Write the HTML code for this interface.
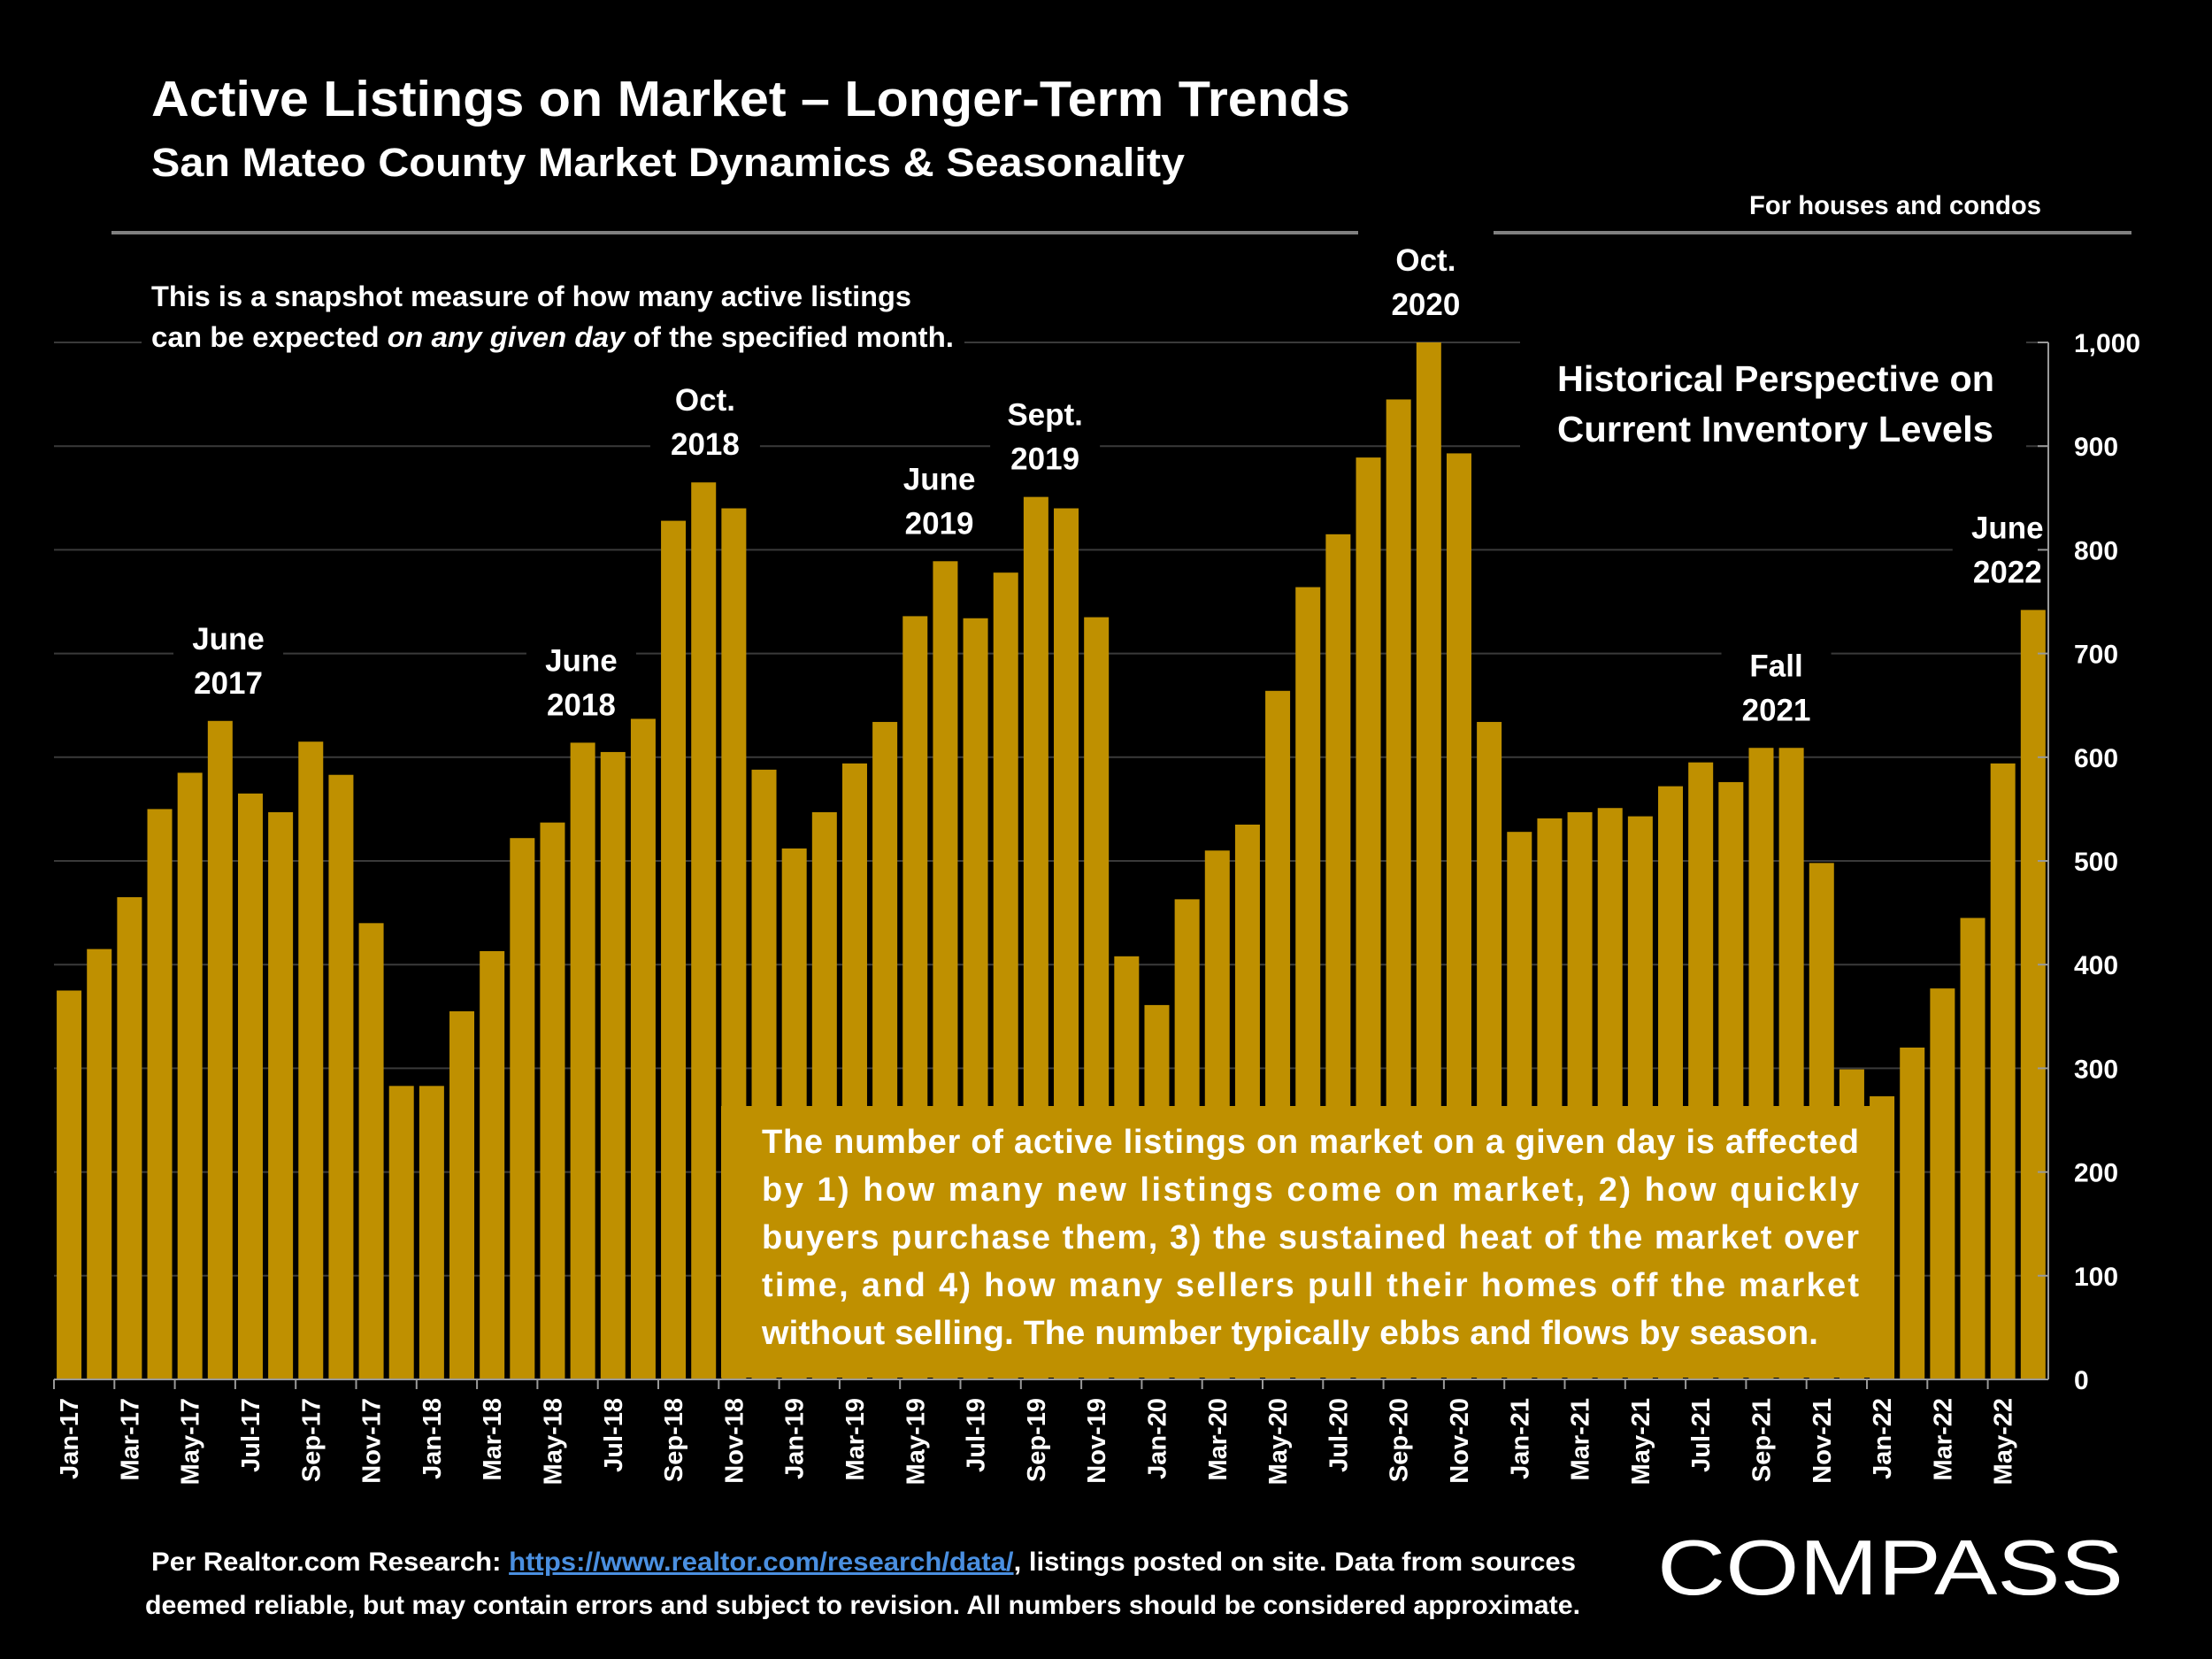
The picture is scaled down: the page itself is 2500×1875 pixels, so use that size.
<!DOCTYPE html>
<html><head><meta charset="utf-8"><style>
html,body{margin:0;padding:0;background:#000;}
svg{display:block;}
text{font-family:"Liberation Sans",sans-serif;fill:#fff;font-weight:bold;}
</style></head><body>
<svg id="chart" width="2500" height="1875" viewBox="0 0 2500 1875" xmlns="http://www.w3.org/2000/svg">
<rect width="2500" height="1875" fill="#000"/>
<g id="grid"></g>
<g id="annbg"></g>
<g id="bars"></g>
<g id="axes"></g>

<text x="171" y="131" font-size="57" textLength="1355" lengthAdjust="spacingAndGlyphs">Active Listings on Market – Longer-Term Trends</text>
<text x="171" y="199" font-size="45" textLength="1168" lengthAdjust="spacingAndGlyphs">San Mateo County Market Dynamics &amp; Seasonality</text>
<rect x="126" y="261" width="1409" height="4" fill="#808080"/>
<rect x="1688" y="261" width="721" height="4" fill="#808080"/>
<text x="2307" y="242" font-size="30" text-anchor="end" textLength="330" lengthAdjust="spacingAndGlyphs">For houses and condos</text>

<rect x="160" y="310" width="930" height="100" fill="#000"/>
<text x="171" y="346" font-size="32" textLength="859" lengthAdjust="spacingAndGlyphs">This is a snapshot measure of how many active listings</text>
<text x="171" y="392" font-size="32" textLength="907" lengthAdjust="spacingAndGlyphs">can be expected <tspan font-style="italic">on any given day</tspan> of the specified month.</text>

<rect x="1718" y="380" width="572" height="170" fill="#000"/>
<text x="1760" y="442" font-size="41" textLength="494" lengthAdjust="spacingAndGlyphs">Historical Perspective on</text>
<text x="1760" y="499" font-size="41" textLength="493" lengthAdjust="spacingAndGlyphs">Current Inventory Levels</text>

<g id="annotations"></g>

<rect x="815" y="1250" width="1315" height="307" fill="#BF9000"/>
<g font-size="38">
<text x="861" y="1303" textLength="1240" lengthAdjust="spacing" font-size="38">The number of active listings on market on a given day is affected</text>
<text x="861" y="1357" textLength="1240" lengthAdjust="spacing" font-size="38">by 1) how many new listings come on market, 2) how quickly</text>
<text x="861" y="1411" textLength="1240" lengthAdjust="spacing" font-size="38">buyers purchase them, 3) the sustained heat of the market over</text>
<text x="861" y="1465" textLength="1240" lengthAdjust="spacing" font-size="38">time, and 4) how many sellers pull their homes off the market</text>
<text x="861" y="1519" textLength="1194" lengthAdjust="spacingAndGlyphs" font-size="38">without selling. The number typically ebbs and flows by season.</text>
</g>

<text x="171" y="1775" font-size="30" textLength="1610" lengthAdjust="spacingAndGlyphs">Per Realtor.com Research:  <tspan fill="#4a8fe0" text-decoration="underline" style="fill:#4a8fe0">https://www.realtor.com/research/data/</tspan>, listings posted on site. Data from sources</text>
<text x="164" y="1824" font-size="30" textLength="1622" lengthAdjust="spacingAndGlyphs">deemed reliable, but may contain errors and subject to revision. All numbers should be considered approximate.</text>
<text x="1873" y="1802" font-size="88" font-weight="normal" style="font-weight:normal" textLength="527" lengthAdjust="spacingAndGlyphs">COMPASS</text>
</svg>
<script>
const months = ["Jan","Feb","Mar","Apr","May","Jun","Jul","Aug","Sep","Oct","Nov","Dec"];
const values2017 = [375,415,465,550,585,635,565,547,615,583,440,283];
const values2018 = [283,355,413,522,537,614,605,637,828,865,840,588];
const values2019 = [512,547,594,634,736,789,734,778,851,840,735,408];
const values2020 = [361,463,510,535,664,764,815,889,945,1000,893,634];
const values2021 = [528,541,547,551,543,572,595,576,609,609,498,299];
const values2022 = [273,320,377,445,594,742];
const yTicks = [0,100,200,300,400,500,600,700,800,900,1000];
const yTickLabels = ["0","100","200","300","400","500","600","700","800","900","1,000"];
const annotationLabels = [["June","2017"],["June","2018"],["Oct.","2018"],["June","2019"],["Sept.","2019"],["Oct.","2020"],["Fall","2021"],["June","2022"]];
const annotationBar = [5,17,21,29,32,45,56,65];
const annotationIndex = [5.27,16.95,21.05,28.8,32.3,44.9,56.5,64.15];

const NS="http://www.w3.org/2000/svg";
const values=[].concat(values2017,values2018,values2019,values2020,values2021,values2022);
const cats=[];
const years=["17","18","19","20","21","22"];
values.forEach((v,i)=>cats.push(months[i%12]+"-"+years[Math.floor(i/12)]));
const X0=61, PITCH=34.15, BW=28, Y0=1559, YSCALE=1.172;
const xc=i=>X0+PITCH*(i+0.5);
const y=v=>Y0-v*YSCALE;
function mk(tag,attrs,parent){const e=document.createElementNS(NS,tag);for(const k in attrs)e.setAttribute(k,attrs[k]);parent.appendChild(e);return e;}
const grid=document.getElementById('grid'),bars=document.getElementById('bars'),axes=document.getElementById('axes'),ann=document.getElementById('annotations'),annbg=document.getElementById('annbg');
yTicks.forEach((t,i)=>{
  if(t>0){const l=mk('line',{x1:61,x2:2315,y1:y(t),y2:y(t),stroke:'#3a3a3a','stroke-width':2},grid);
  
  }
  const tk=mk('line',{x1:2303,x2:2315,y1:y(t),y2:y(t),stroke:'#999','stroke-width':2},axes);
  
  
  const tx=mk('text',{x:2344,y:y(t)+11,'font-size':30},axes);
  tx.textContent=yTickLabels[i];
  
  
});
const ax=mk('line',{x1:2315,x2:2315,y1:y(1000),y2:y(0),stroke:'#999','stroke-width':2},axes);


values.forEach((v,i)=>{
  const r=mk('rect',{x:xc(i)-BW/2,y:y(v),width:BW,height:v*YSCALE,fill:'#BF9000'},bars);
  
  
  if(i%2===0){
    const t=mk('line',{x1:X0+PITCH*i,x2:X0+PITCH*i,y1:Y0,y2:Y0+11,stroke:'#999','stroke-width':2},axes);
    
    
    const lb=mk('text',{x:0,y:0,'font-size':29,'text-anchor':'end',transform:`translate(${xc(i)+10},1580) rotate(-90)`},axes);
    lb.textContent=cats[i];
    
    
  }
});
const xl=mk('line',{x1:61,x2:2315,y1:Y0,y2:Y0,stroke:'#999','stroke-width':2},axes);


annotationLabels.forEach((lab,k)=>{
  const v=values[annotationBar[k]];
  const base=y(v)-81;
  const cx=xc(annotationIndex[k]);
  const bg=mk('rect',{x:cx-62,y:base-42,width:124,height:105,fill:'#000'},annbg);
  
  
  lab.forEach((s,j)=>{
    const t=mk('text',{x:cx,y:base+j*50,'font-size':35,'text-anchor':'middle'},ann);
    t.textContent=s;
    
    
  });
});
</script>
</body></html>
